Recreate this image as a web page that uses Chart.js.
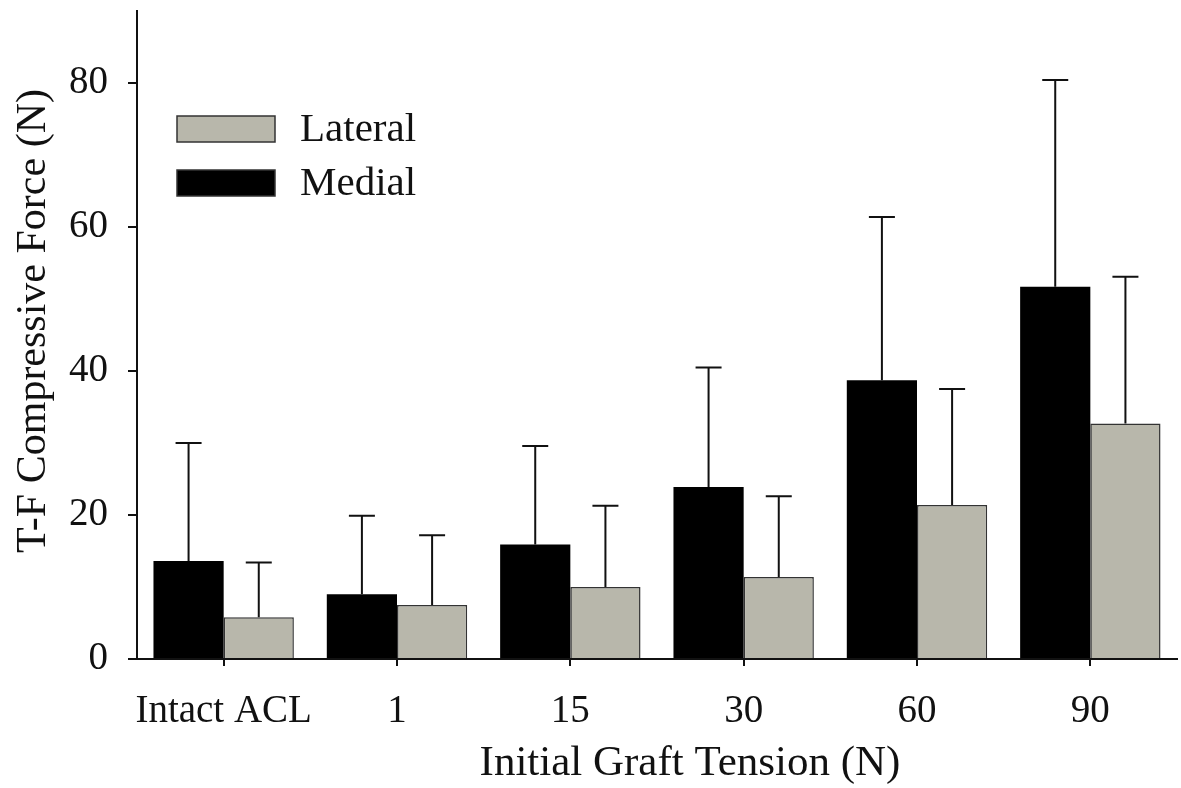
<!DOCTYPE html>
<html>
<head>
<meta charset="utf-8">
<script src="https://cdn.jsdelivr.net/npm/chart.js@4.4.0/dist/chart.umd.min.js"></script>
<style>
  html, body { margin: 0; padding: 0; background: #fff; }
  #chart { display: block; }
</style>
</head>
<body>
<canvas id="chart" width="1181" height="788"></canvas>
<script>
// values
const tensions = ['Intact ACL', '1', '15', '30', '60', '90'];
const medialMean = [13.6, 9.0, 15.9, 23.9, 38.7, 51.7];
const medialSD = [16.4, 10.9, 13.7, 16.6, 22.7, 28.7];
const lateralMean = [5.8, 7.5, 10.0, 11.4, 21.4, 32.7];
const lateralSD = [7.6, 9.7, 11.3, 11.2, 16.1, 20.4];
const yTicks = [0, 20, 40, 60, 80];

const serif = "'Liberation Serif', 'Times New Roman', serif";
Chart.defaults.font.family = serif;
Chart.defaults.color = '#111';

// upward-only error bars with caps
const errorBars = {
    id: 'errorBars',
    afterDatasetsDraw(chart) {
        const ctx = chart.ctx;
        const y = chart.scales.y;
        ctx.save();
        ctx.strokeStyle = '#111';
        ctx.lineWidth = 2;
        chart.data.datasets.forEach((ds, d) => {
            const meta = chart.getDatasetMeta(d);
            meta.data.forEach((bar, i) => {
                const top = y.getPixelForValue(ds.data[i] + ds.sd[i]);
                ctx.beginPath();
                ctx.moveTo(bar.x, bar.y);
                ctx.lineTo(bar.x, top);
                ctx.moveTo(bar.x - 13, top);
                ctx.lineTo(bar.x + 13, top);
                ctx.stroke();
            });
        });
        ctx.restore();
    }
};

// legend inside the plot, Lateral listed first + axis titles
const labelsAndLegend = {
    id: 'labelsAndLegend',
    afterDraw(chart) {
        const ctx = chart.ctx;
        ctx.save();
        ctx.fillStyle = '#111';
        ctx.textBaseline = 'middle';
        ctx.textAlign = 'left';
        ctx.font = '41px ' + serif;
        [1, 0].forEach((d, row) => {
            const ds = chart.data.datasets[d];
            const top = 116 + row * 54;
            ctx.fillStyle = ds.backgroundColor;
            ctx.fillRect(177, top, 98, 26);
            ctx.strokeStyle = '#333';
            ctx.lineWidth = 1.5;
            ctx.strokeRect(177, top, 98, 26);
            ctx.fillStyle = '#111';
            ctx.fillText(ds.label, 300, top + 14);
        });

        ctx.textAlign = 'center';
        ctx.textBaseline = 'alphabetic';
        ctx.font = '43px ' + serif;
        ctx.fillText('Initial Graft Tension (N)', 690, 775);

        ctx.font = '42px ' + serif;
        ctx.translate(45, 321);
        ctx.rotate(-Math.PI / 2);
        ctx.fillText('T-F Compressive Force (N)', 0, 0);
        ctx.restore();
    }
};

new Chart(document.getElementById('chart'), {
    type: 'bar',
    data: {
        labels: tensions,
        datasets: [{
            label: 'Medial',
            data: medialMean,
            sd: medialSD,
            backgroundColor: '#000000',
            borderWidth: 0,
            categoryPercentage: 0.81,
            barPercentage: 1.0
        }, {
            label: 'Lateral',
            data: lateralMean,
            sd: lateralSD,
            backgroundColor: '#b8b7ab',
            borderColor: '#333333',
            borderWidth: 1.5,
            categoryPercentage: 0.81,
            barPercentage: 1.0
        }]
    },
    options: {
        responsive: false,
        animation: false,
        layout: { padding: { top: 11, right: 4, left: 0, bottom: 0 } },
        plugins: {
            legend: { display: false },
            tooltip: { enabled: false }
        },
        scales: {
            x: {
                grid: {
                    display: true,
                    drawOnChartArea: false,
                    drawTicks: true,
                    tickLength: 7,
                    offset: false,
                    color: '#111',
                    lineWidth: 2
                },
                border: { display: true, color: '#111', width: 2 },
                ticks: { font: { size: 39 }, color: '#111', padding: 22, maxRotation: 0, autoSkip: false },
                afterFit: (s) => {
                    s.height = 129;
                    s.paddingLeft = 0;
                    s.paddingRight = 0;
                }
            },
            y: {
                min: 0,
                max: 90,
                afterBuildTicks: (s) => {
                    s.ticks = yTicks.map(v => ({ value: v }));
                },
                grid: {
                    display: true,
                    drawOnChartArea: false,
                    drawTicks: true,
                    tickLength: 9,
                    color: '#111',
                    lineWidth: 2
                },
                border: { display: true, color: '#111', width: 2 },
                ticks: { font: { size: 39 }, color: '#111', padding: 20 },
                afterFit: (s) => {
                    s.width = 137;
                    s.paddingTop = 0;
                    s.paddingBottom = 0;
                }
            }
        }
    },
    plugins: [errorBars, labelsAndLegend]
});
</script>
</body>
</html>
